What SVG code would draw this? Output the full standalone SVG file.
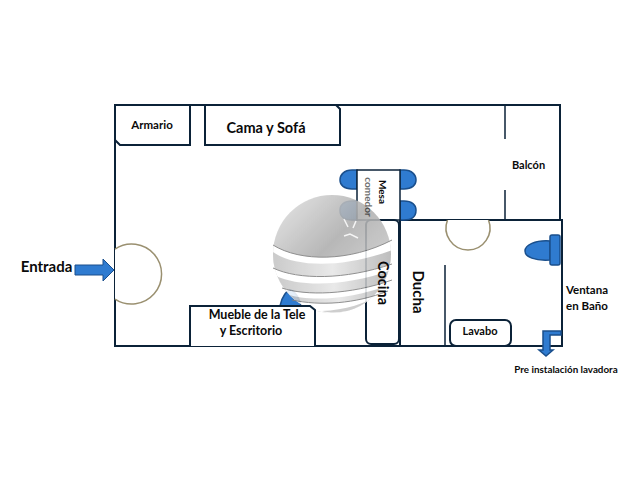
<svg xmlns="http://www.w3.org/2000/svg" width="640" height="480" viewBox="0 0 640 480">
<style>
text{font-family:Lato,"Liberation Sans",sans-serif;fill:#0a0a0a;text-anchor:middle;font-weight:700}
.w{fill:none;stroke:#0b2238;stroke-width:2}
.t{fill:none;stroke:#0b2238;stroke-width:1.5}
.box{fill:#fff;stroke:#0b2238;stroke-width:2}
.blue{fill:#2f7bd0;stroke:#1a4f8c;stroke-width:1.5}
.door{fill:#fff;stroke:#9a9070;stroke-width:1.5}
</style>
<defs>
<linearGradient id="g" x1="0" y1="0" x2="1" y2="1"><stop offset="0" stop-color="#e6e6e6"/><stop offset=".45" stop-color="#aeaeae"/><stop offset=".75" stop-color="#c8c8c8"/><stop offset="1" stop-color="#e4e4e4"/></linearGradient>
<linearGradient id="b" x1="0" y1="0" x2="1" y2="0"><stop offset="0" stop-color="#c4c4c4"/><stop offset=".5" stop-color="#e6e6e6"/><stop offset="1" stop-color="#b4b4b4"/></linearGradient>
<clipPath id="c"><circle cx="332" cy="254" r="59"/></clipPath>
</defs>
<g id="connectors">
<path class="w" d="M115 105H560V220M115 105V346H562V220H400V346"/>
<path class="t" d="M505 105V139M505 190V220M445 265V346"/>
</g>
<g id="door-entrada"><path class="door" d="M115 249A30 30 0 1 1 115 299"/></g>
<g id="door-bano"><path class="door" d="M447.500 220A22 22 0 1 0 488.500 220"/></g>
<g id="chairs">
<path class="blue" d="M357 170H352C344 170 340 175 340 180C340 185 344 189 352 189H357Z"/>
<path class="blue" d="M400 170H404C412 170 416 175 416 180C416 185 412 189 404 189H400Z"/>
<path class="blue" d="M357 201H352C344 201 340 205 340 210C340 216 344 220 352 220H357Z"/>
<path class="blue" d="M400 201H404C412 201 416 205 416 210C416 216 412 220 404 220H400Z"/>
<path class="blue" d="M280 306C282 296 287 290 291 290C296 292 300 300 301 306Z"/>
</g>
<g id="mesa"><rect x="357" y="170" width="43" height="50" fill="#fff" stroke="#0b2238" stroke-width="1.500"/>
<text transform="translate(379,192) rotate(90)" font-size="10">Mesa</text></g>
<g id="cocina"><rect x="366" y="220" width="33" height="124" rx="5" class="box"/></g>
<g id="armario"><path class="box" d="M115 105H190V145H120L115 140Z"/><text x="152" y="129" font-size="11.500">Armario</text></g>
<g id="cama"><path class="box" d="M205 105H336L340 109V145H205Z"/><text x="266" y="133" font-size="14.500">Cama y Sofá</text></g>
<g id="lavabo"><rect x="450" y="320" width="61" height="26" rx="6" class="box" stroke-width="1.500"/><text x="480" y="335" font-size="11">Lavabo</text></g>
<g id="ventana">
<path class="blue" d="M550 241C535 240 525 245 525 251C525 257 535 261 550 260Z"/>
<rect x="550" y="235" width="10" height="30" rx="2" class="blue"/></g>
<g id="lavadora"><path class="blue" stroke-width="1" d="M561 331H543V350H539L546 356L553 350H550V335H561Z"/></g>
<g id="entrada"><path fill="#2f7bd0" stroke="#1a4f8c" d="M75 265H103V259L114 270L103 281V275H75Z"/><text x="46.500" y="272" font-size="15">Entrada</text></g>
<g id="logo" opacity=".88">
<circle cx="332" cy="254" r="59" fill="url(#g)"/>
<g clip-path="url(#c)">
<path d="M273 245C300 262 350 262 392 240V392H273Z" fill="#fff"/>
<path d="M273 252C295 268 345 268 392 250V264C345 280 300 280 273 268Z" fill="url(#b)"/>
<path d="M273 268C298 280 345 280 392 264V268C345 284 300 285 273 274Z" fill="#fff"/>
<path d="M276 276C300 287 345 287 392 270V280C350 295 305 296 282 288Z" fill="url(#b)"/>
<path d="M286 294C310 302 350 300 392 284V290C355 304 320 306 292 300Z" fill="url(#b)"/>
<path d="M322 311C345 310 365 304 385 292C370 308 340 316 322 311Z" fill="#c8c8c8"/>
</g>
<path d="M273 245C300 262 350 262 392 240M273 268C298 280 345 280 392 264M282 288C305 296 350 295 392 280M292 300C320 306 355 304 388 291" fill="none" stroke="#808080" stroke-width="1"/>
<path d="M344 219L348 227M356 221L353 228M344 236L350 234L358 238" fill="none" stroke="#f4f4f4" stroke-width="1.500"/>
</g>
<g id="mesa-label"><text transform="translate(365,197) rotate(90)" font-size="10" opacity=".6">comedor</text></g>
<g id="mueble"><path class="box" d="M190 346V306H310L315 310V346"/>
<text x="257" y="319" font-size="12.500">Mueble de la Tele</text><text x="251" y="335" font-size="12.500">y Escritorio</text></g>
<g id="labels">
<text transform="translate(378,283) rotate(90)" font-size="14.500">Cocina</text>
<text transform="translate(413,292) rotate(90)" font-size="15">Ducha</text>
<text x="528.500" y="169" font-size="11">Balcón</text>
<text x="587" y="294" font-size="11.500">Ventana</text>
<text x="587" y="310" font-size="11.500">en Baño</text>
<text x="566" y="373" font-size="9.800">Pre instalación lavadora</text>
</g>
</svg>
